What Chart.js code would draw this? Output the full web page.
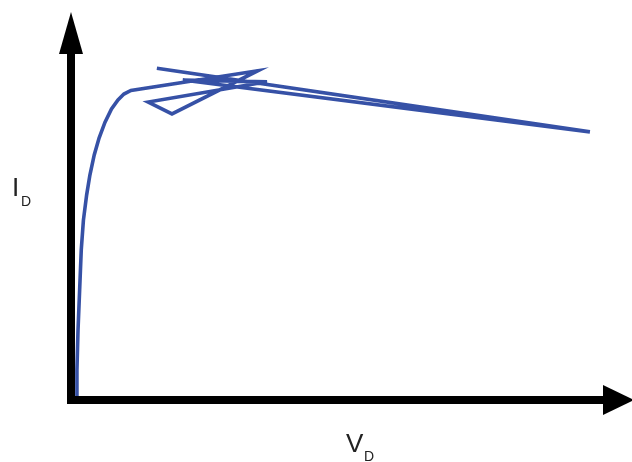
<!DOCTYPE html>
<html>
<head>
<meta charset="utf-8">
<script src="https://cdn.jsdelivr.net/npm/chart.js@4/dist/chart.umd.min.js"></script>
<style>
html,body{margin:0;padding:0;background:#fff;}
#wrap{width:632px;height:462px;position:relative;}
</style>
</head>
<body>
<div id="wrap"><canvas id="c" width="632" height="462"></canvas></div>
<script>
// Drain voltage (arbitrary units) and drain current (arbitrary units)
const vD = [0.11, 0.11, 0.13, 0.16, 0.19, 0.23, 0.29, 0.35, 0.43, 0.52, 0.63, 0.75, 0.87, 0.98, 1.11,
            3.46, 1.87, 1.43, 3.63, 2.07, 9.61, 1.59];
const iD = [0.02, 0.81, 1.92, 3.03, 4.14, 4.97, 5.67, 6.22, 6.78, 7.25, 7.69, 8.06, 8.31, 8.47, 8.57,
            9.12, 7.92, 8.25, 8.81, 8.86, 7.42, 9.19];
const xLabel = ['V', 'D'];
const yLabel = ['I', 'D'];

const points = vD.map((v, i) => ({x: v, y: iD[i]}));

const axesPlugin = {
  id: 'arrowAxes',
  beforeDatasetsDraw(chart) {
    const ctx = chart.ctx;
    const xs = chart.scales.x, ys = chart.scales.y;
    const x0 = xs.getPixelForValue(0);
    const y0 = ys.getPixelForValue(0);
    ctx.save();
    ctx.fillStyle = '#000';
    ctx.fillRect(x0 - 4, 50, 8, y0 + 4 - 50);
    ctx.beginPath();
    ctx.moveTo(x0, 12);
    ctx.lineTo(x0 + 12, 54);
    ctx.lineTo(x0 - 12, 54);
    ctx.closePath();
    ctx.fill();
    ctx.restore();
  },
  afterDatasetsDraw(chart) {
    const ctx = chart.ctx;
    const xs = chart.scales.x, ys = chart.scales.y;
    const x0 = xs.getPixelForValue(0);
    const y0 = ys.getPixelForValue(0);
    ctx.save();
    ctx.fillStyle = '#000';
    ctx.fillRect(x0 - 4, y0 - 3, 606 - (x0 - 4), 8);
    ctx.beginPath();
    ctx.moveTo(634, y0 + 1);
    ctx.lineTo(603, y0 - 14);
    ctx.lineTo(603, y0 + 16);
    ctx.closePath();
    ctx.fill();
    ctx.fillStyle = '#222';
    ctx.textBaseline = 'alphabetic';
    ctx.textAlign = 'left';
    ctx.font = '26px "Liberation Sans", Arial, sans-serif';
    ctx.fillText(yLabel[0], 12, 196);
    ctx.fillText(xLabel[0], 346, 452);
    ctx.font = '14px "Liberation Sans", Arial, sans-serif';
    ctx.fillText(yLabel[1], 21, 206);
    ctx.fillText(xLabel[1], 364, 461);
    ctx.restore();
  }
};

new Chart(document.getElementById('c'), {
  type: 'scatter',
  data: {
    datasets: [{
      data: points,
      showLine: true,
      borderColor: '#3651a6',
      backgroundColor: '#3651a6',
      borderWidth: 3.6,
      pointRadius: 0,
      tension: 0,
      borderJoinStyle: 'miter',
      borderCapStyle: 'butt',
      clip: false
    }]
  },
  options: {
    responsive: false,
    animation: false,
    devicePixelRatio: 1,
    layout: {padding: {left: 71, right: 21, top: 39, bottom: 63}},
    plugins: {legend: {display: false}, tooltip: {enabled: false}},
    scales: {
      x: {type: 'linear', min: 0, max: 10, display: false},
      y: {type: 'linear', min: 0, max: 10, display: false}
    }
  },
  plugins: [axesPlugin]
});
</script>
</body>
</html>
